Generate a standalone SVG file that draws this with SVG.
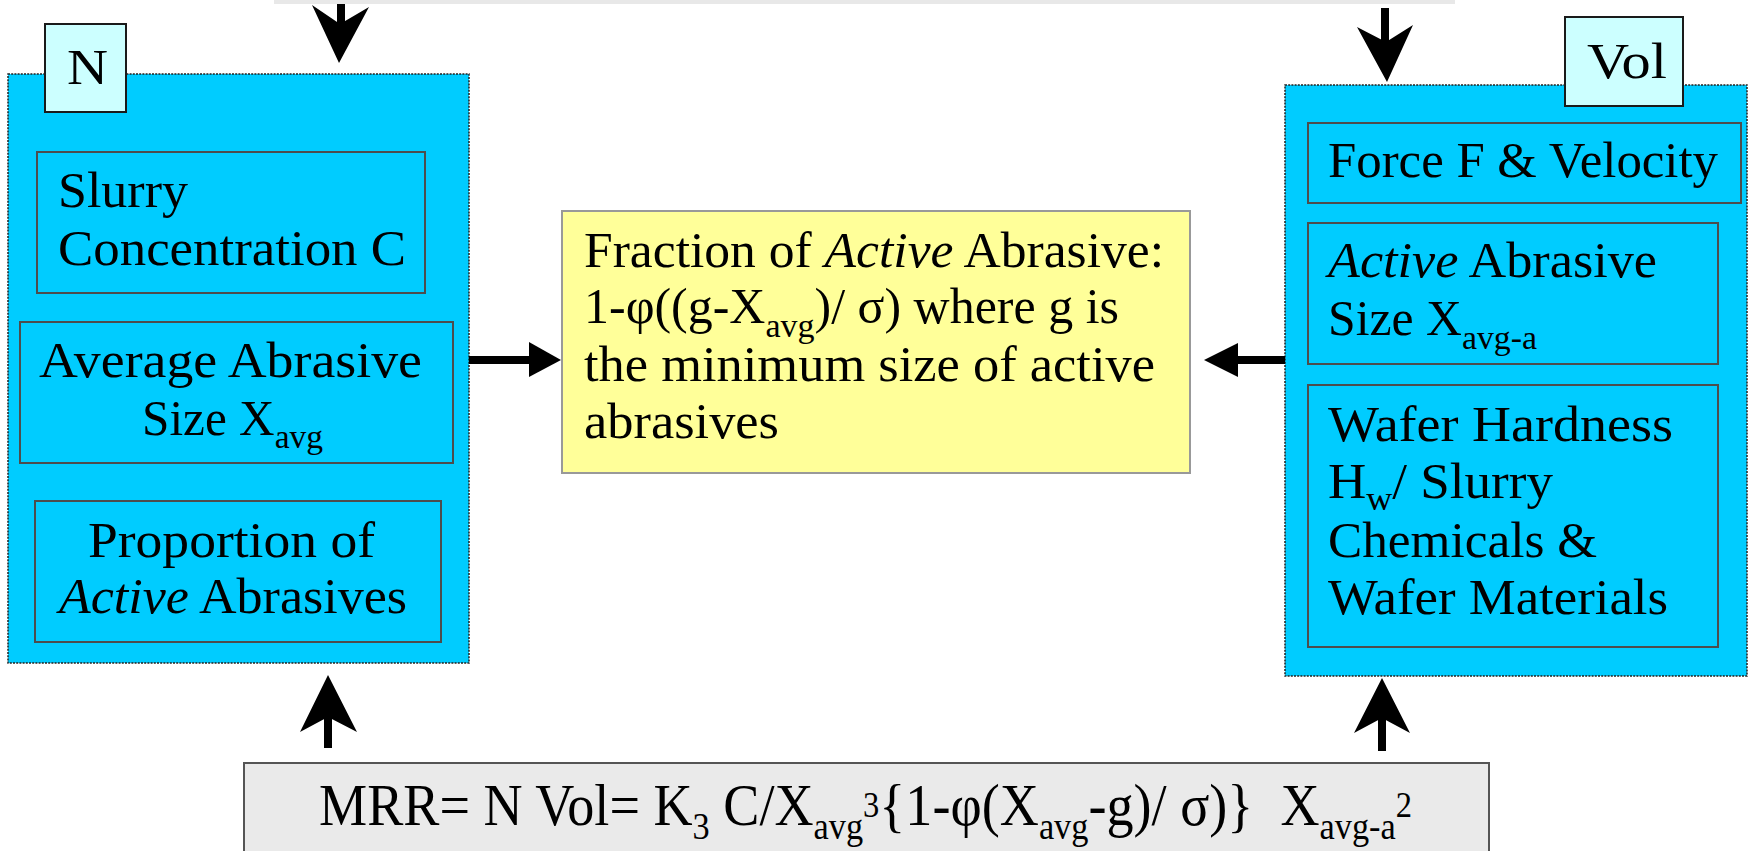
<svg xmlns="http://www.w3.org/2000/svg" width="1753" height="851" viewBox="0 0 1753 851">
<style>
text{font-family:"Liberation Serif","Times New Roman",serif;font-size:50px;fill:#000}
.it{font-style:italic}
.sub{font-size:34px}
.fm{font-size:60px}
.fsub{font-size:38px}
.fsup{font-size:36px}
.outer{fill:#00ccff;stroke:#222;stroke-width:1.5;stroke-dasharray:2 1.2}
.inner{fill:none;stroke:#4d4d4d;stroke-width:2}
.tag{fill:#ccffff;stroke:#1a1a1a;stroke-width:2}
.shaft{stroke:#000;stroke-width:8;fill:none}
.head{fill:#000}
</style>
<rect id="topbar" x="274" y="0" width="1181" height="4" fill="#e8e8e8"/>
<g id="N-group">
<rect class="outer" x="8" y="74" width="461" height="589"/>
<rect class="tag" x="45" y="24" width="81" height="88"/>
<text x="67" y="84" textLength="41" lengthAdjust="spacingAndGlyphs">N</text>
<g id="slurry">
<rect class="inner" x="37" y="152" width="388" height="141"/>
<text x="58" y="207" textLength="130" lengthAdjust="spacingAndGlyphs">Slurry</text>
<text x="58" y="265" textLength="348" lengthAdjust="spacingAndGlyphs">Concentration C</text>
</g>
<g id="avgsize">
<rect class="inner" x="20" y="322" width="433" height="141"/>
<text x="39" y="377" textLength="383" lengthAdjust="spacingAndGlyphs">Average Abrasive</text>
<text x="142" y="435" textLength="181" lengthAdjust="spacingAndGlyphs">Size X<tspan class="sub" dy="13">avg</tspan></text>
</g>
<g id="proportion">
<rect class="inner" x="35" y="501" width="406" height="141"/>
<text x="88" y="557" textLength="287" lengthAdjust="spacingAndGlyphs">Proportion of</text>
<text x="59" y="613" textLength="348" lengthAdjust="spacingAndGlyphs"><tspan class="it">Active</tspan> Abrasives</text>
</g>
</g>
<g id="Vol-group">
<rect class="outer" x="1285" y="85" width="462" height="591"/>
<rect class="tag" x="1565" y="17" width="118" height="89"/>
<text x="1587" y="78" textLength="80" lengthAdjust="spacingAndGlyphs">Vol</text>
<g id="force">
<rect class="inner" x="1308" y="123" width="433" height="80"/>
<text x="1328" y="177" textLength="390" lengthAdjust="spacingAndGlyphs">Force F &amp; Velocity</text>
</g>
<g id="activesize">
<rect class="inner" x="1308" y="223" width="410" height="141"/>
<text x="1328" y="277" textLength="329" lengthAdjust="spacingAndGlyphs"><tspan class="it">Active</tspan> Abrasive</text>
<text x="1328" y="335" textLength="209" lengthAdjust="spacingAndGlyphs">Size X<tspan class="sub" dy="14">avg-a</tspan></text>
</g>
<g id="hardness">
<rect class="inner" x="1308" y="385" width="410" height="262"/>
<text x="1328" y="441" textLength="345" lengthAdjust="spacingAndGlyphs">Wafer Hardness</text>
<text x="1328" y="498" textLength="225" lengthAdjust="spacingAndGlyphs">H<tspan class="sub" dy="12">w</tspan><tspan dy="-12">/ Slurry</tspan></text>
<text x="1328" y="557" textLength="269" lengthAdjust="spacingAndGlyphs">Chemicals &amp;</text>
<text x="1328" y="614" textLength="340" lengthAdjust="spacingAndGlyphs">Wafer Materials</text>
</g>
</g>
<g id="fraction">
<rect x="562" y="211" width="628" height="262" fill="#ffff99" stroke="#999" stroke-width="2"/>
<text x="584" y="267" textLength="580" lengthAdjust="spacingAndGlyphs">Fraction of <tspan class="it">Active</tspan> Abrasive:</text>
<text x="584" y="323" textLength="535" lengthAdjust="spacingAndGlyphs">1-φ((g-X<tspan class="sub" dy="14">avg</tspan><tspan dy="-14">)/ σ) where g is</tspan></text>
<text x="584" y="381" textLength="571" lengthAdjust="spacingAndGlyphs">the minimum size of active</text>
<text x="584" y="438" textLength="195" lengthAdjust="spacingAndGlyphs">abrasives</text>
</g>
<g id="mrr">
<rect x="244" y="763" width="1245" height="95" fill="#eaeaea" stroke="#555" stroke-width="2"/>
<text class="fm" x="319" y="825" xml:space="preserve" textLength="1093" lengthAdjust="spacingAndGlyphs">MRR= N Vol= K<tspan class="fsub" dy="14">3</tspan><tspan dy="-14"> C/X</tspan><tspan class="fsub" dy="14">avg</tspan><tspan class="fsup" dy="-22">3</tspan><tspan dy="8">{1-φ(X</tspan><tspan class="fsub" dy="14">avg</tspan><tspan dy="-14">-g)/ σ)}  X</tspan><tspan class="fsub" dy="14">avg-a</tspan><tspan class="fsup" dy="-22">2</tspan></text>
</g>
<g id="connectors">
<line class="shaft" x1="341" y1="4" x2="341" y2="28"/>
<polygon class="head" points="312,5 340,24 369,7 339,63"/>
<line class="shaft" x1="1385" y1="8" x2="1385" y2="46"/>
<polygon class="head" points="1357,27 1386,42 1413,25 1387,82"/>
<line class="shaft" x1="469" y1="360" x2="532" y2="360"/>
<polygon class="head" points="529,342 561,360 529,377"/>
<line class="shaft" x1="1285" y1="360" x2="1235" y2="360"/>
<polygon class="head" points="1238,343 1204,360 1238,377"/>
<line class="shaft" x1="328" y1="748" x2="328" y2="714"/>
<polygon class="head" points="300,732 328,717 357,732 328,675"/>
<line class="shaft" x1="1382" y1="751" x2="1382" y2="715"/>
<polygon class="head" points="1354,733 1382,718 1410,733 1382,678"/>
</g>
</svg>
